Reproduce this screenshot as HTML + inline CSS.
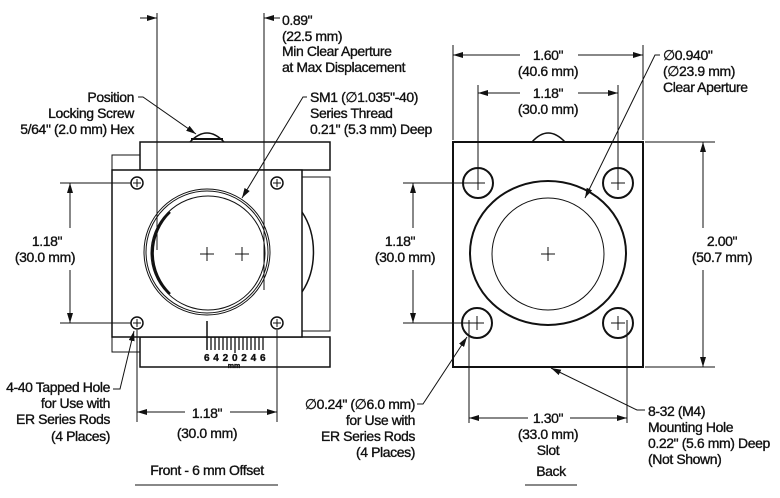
<!DOCTYPE html>
<html><head><meta charset="utf-8"><style>
html,body{margin:0;padding:0;background:#fff}
svg{display:block}
text{font-family:"Liberation Sans Narrow","Liberation Sans",sans-serif;font-size:14px;fill:#111;stroke:#111;stroke-width:0.35px;letter-spacing:-0.4px}
.m{text-anchor:middle}.e{text-anchor:end}
</style></head><body>
<svg width="780" height="498" viewBox="0 0 780 498" xmlns="http://www.w3.org/2000/svg">
<defs>
<marker id="a" viewBox="0 0 10 6" refX="10" refY="3" markerWidth="10" markerHeight="6" orient="auto-start-reverse" markerUnits="userSpaceOnUse"><path d="M0,0L10,3L0,6z" fill="#111"/></marker>
</defs>
<g fill="none" stroke="#111" stroke-width="1">
<!-- FRONT VIEW -->
<path d="M190,142 Q207,124 224,142" stroke-width="1.5" fill="#fff"/>
<line x1="191" y1="139" x2="223" y2="139" stroke-width="2"/>
<rect x="140" y="142" width="190" height="28" stroke-width="1.5"/>
<rect x="140" y="337" width="190" height="30" stroke-width="1.5"/>
<path d="M140,155 H112 V352 H140"/>
<path d="M302,177 H330 V331 H302"/>
<path d="M302,212 A45,60 0 0 1 302,292" stroke-width="1.5"/>
<rect x="112" y="170" width="190" height="167" fill="#fff" stroke-width="1.5"/>
<circle cx="207" cy="252" r="63"/>
<circle cx="207" cy="252" r="61"/>
<circle cx="208" cy="253" r="57"/>
<path d="M170,212 A57,57 0 0 0 170,294" stroke-width="2.5"/>
<path d="M200,254h14M207,247v14M235,254h14M242,247v14"/>
<g stroke-width="1.5"><circle cx="137" cy="183" r="6"/><circle cx="277" cy="183" r="6"/><circle cx="137" cy="323" r="6"/><circle cx="277" cy="323" r="6"/></g>
<path d="M133,183h8M137,179v8M273,183h8M277,179v8M133,323h8M137,319v8M273,323h8M277,319v8"/>
<line x1="207" y1="321" x2="207" y2="350" stroke-width="1.5"/>
<path d="M211,337v13M215,337v13M219,337v13M223,337v13M227,337v13M231,337v13M235,337v16M239,337v13M243,337v13M247,337v13M251,337v13M255,337v13M259,337v13M263,337v13" stroke-width="1.3"/>
<!-- top dims front -->
<line x1="157" y1="13" x2="157" y2="250"/>
<line x1="264" y1="13" x2="264" y2="290"/>
<line x1="140" y1="18" x2="157" y2="18" marker-end="url(#a)"/>
<line x1="280" y1="18" x2="264" y2="18" marker-end="url(#a)"/>
<path d="M138,97 H143 L196,134" marker-end="url(#a)"/>
<path d="M307,97 H303 L242,198" marker-end="url(#a)"/>
<!-- left 1.18 -->
<path d="M60,183H131M60,323H131"/>
<line x1="70" y1="228" x2="70" y2="183" marker-end="url(#a)"/>
<line x1="70" y1="270" x2="70" y2="323" marker-end="url(#a)"/>
<path d="M113,389H120L134,331" marker-end="url(#a)"/>
<!-- bottom 1.18 -->
<path d="M137,330V422M277,330V422"/>
<line x1="185" y1="412" x2="137" y2="412" marker-end="url(#a)"/>
<line x1="230" y1="412" x2="277" y2="412" marker-end="url(#a)"/>
<line x1="135" y1="485" x2="278" y2="485"/>

<!-- BACK VIEW -->
<path d="M532,142 Q548,124 565,142" stroke-width="1.5" fill="#fff"/>
<rect x="453" y="142" width="190" height="225" stroke-width="2"/>
<ellipse cx="548" cy="253" rx="78" ry="72" stroke-width="2"/>
<circle cx="548" cy="254" r="56"/>
<path d="M541,254h14M548,247v14"/>
<g stroke-width="2"><circle cx="478" cy="183" r="15"/><circle cx="618" cy="183" r="15"/><circle cx="477" cy="323" r="15"/><circle cx="618" cy="323" r="15"/></g>
<path d="M471,183h14M478,176v14M611,183h14M618,176v14M470,323h14M477,316v14M611,323h14M618,316v14"/>
<path d="M453,45V140M643,45V140"/>
<line x1="520" y1="55" x2="453" y2="55" marker-end="url(#a)"/>
<line x1="578" y1="55" x2="643" y2="55" marker-end="url(#a)"/>
<path d="M478,85V183M618,85V183"/>
<line x1="520" y1="93" x2="478" y2="93" marker-end="url(#a)"/>
<line x1="578" y1="93" x2="618" y2="93" marker-end="url(#a)"/>
<path d="M660,55H655L585,198" marker-end="url(#a)"/>
<path d="M403,183H478M403,323H478"/>
<line x1="413" y1="228" x2="413" y2="183" marker-end="url(#a)"/>
<line x1="413" y1="270" x2="413" y2="323" marker-end="url(#a)"/>
<path d="M645,142H715M645,367H715"/>
<line x1="703" y1="228" x2="703" y2="142" marker-end="url(#a)"/>
<line x1="703" y1="270" x2="703" y2="367" marker-end="url(#a)"/>
<path d="M417,404H423L467,337" marker-end="url(#a)"/>
<path d="M469,320V423M627,320V423"/>
<line x1="528" y1="418" x2="469" y2="418" marker-end="url(#a)"/>
<line x1="570" y1="418" x2="627" y2="418" marker-end="url(#a)"/>
<path d="M645,410H637L551,368" marker-end="url(#a)"/>
<line x1="525" y1="485" x2="577" y2="485"/>
</g>
<g>
<text x="282" y="25">0.89"</text>
<text x="282" y="41">(22.5 mm)</text>
<text x="282" y="56">Min Clear Aperture</text>
<text x="282" y="72">at Max Displacement</text>
<text class="e" x="134" y="102">Position</text>
<text class="e" x="134" y="118">Locking Screw</text>
<text class="e" x="134" y="134">5/64" (2.0 mm) Hex</text>
<text x="310" y="102">SM1 (∅1.035"-40)</text>
<text x="310" y="118">Series Thread</text>
<text x="310" y="134">0.21" (5.3 mm) Deep</text>
<text class="m" x="47" y="246">1.18"</text>
<text class="m" x="45" y="262">(30.0 mm)</text>
<text class="e" x="110" y="392">4-40 Tapped Hole</text>
<text class="e" x="110" y="408">for Use with</text>
<text class="e" x="110" y="424">ER Series Rods</text>
<text class="e" x="110" y="441">(4 Places)</text>
<text class="m" x="207" y="418">1.18"</text>
<text class="m" x="207" y="438">(30.0 mm)</text>
<text class="m" x="207" y="475">Front - 6 mm Offset</text>
<text class="m" x="235" y="361" style="font-size:10px;font-weight:bold;letter-spacing:0.5px">6 4 2 0 2 4 6</text>
<text class="m" x="234" y="368" style="font-size:7px;font-weight:bold;letter-spacing:0">mm</text>
<text class="m" x="548" y="60">1.60"</text>
<text class="m" x="548" y="76">(40.6 mm)</text>
<text class="m" x="548" y="98">1.18"</text>
<text class="m" x="548" y="114">(30.0 mm)</text>
<text x="663" y="60">∅0.940"</text>
<text x="663" y="76">(∅23.9 mm)</text>
<text x="663" y="92">Clear Aperture</text>
<text class="m" x="400" y="246">1.18"</text>
<text class="m" x="405" y="262">(30.0 mm)</text>
<text class="m" x="722" y="246">2.00"</text>
<text class="m" x="722" y="262">(50.7 mm)</text>
<text class="e" x="415" y="409">∅0.24" (∅6.0 mm)</text>
<text class="e" x="415" y="425">for Use with</text>
<text class="e" x="415" y="441">ER Series Rods</text>
<text class="e" x="415" y="457">(4 Places)</text>
<text class="m" x="548" y="423">1.30"</text>
<text class="m" x="548" y="439">(33.0 mm)</text>
<text class="m" x="548" y="455">Slot</text>
<text class="m" x="551" y="476">Back</text>
<text x="648" y="416">8-32 (M4)</text>
<text x="648" y="432">Mounting Hole</text>
<text x="648" y="448">0.22" (5.6 mm) Deep</text>
<text x="648" y="464">(Not Shown)</text>
</g>
</svg>
</body></html>
